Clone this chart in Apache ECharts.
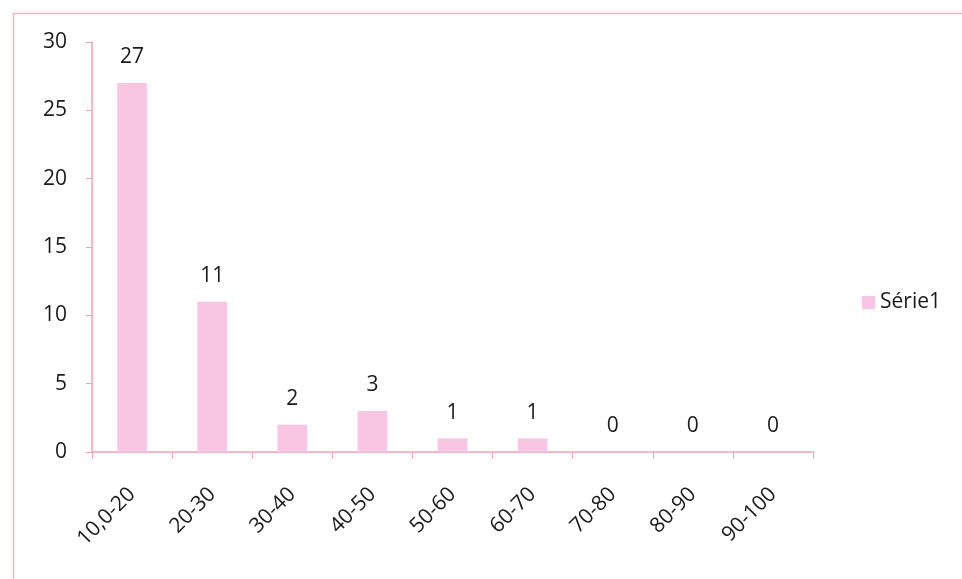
<!DOCTYPE html>
<html>
<head>
<meta charset="utf-8">
<script src="https://cdn.jsdelivr.net/npm/echarts@6/dist/echarts.min.js"></script>
<style>
  html, body { margin: 0; padding: 0; background: #fff; }
  #chart { width: 962px; height: 579px; }
</style>
</head>
<body>
<div id="chart"></div>
<script>
// Class intervals and their counts
const categories = ['10,0-20', '20-30', '30-40', '40-50', '50-60', '60-70', '70-80', '80-90', '90-100'];
const counts = [27, 11, 2, 3, 1, 1, 0, 0, 0];
const seriesName = 'Série1';

const FONT = '"Open Sans", Lato, sans-serif';
const FONT_SIZE = 21;
const TEXT_COLOR = '#1a1a1a';
const AXIS_COLOR = '#f0a3ad';
const BAR_COLOR = '#f8c6e2';

const chart = echarts.init(document.getElementById('chart'), null, { renderer: 'canvas' });

chart.setOption({
  backgroundColor: '#ffffff',
  animation: false,
  graphic: [{
    type: 'rect',
    left: 11, top: 11,
    shape: { width: 1000, height: 1000 },
    style: { fill: 'none', stroke: '#f2b6bf', lineWidth: 1.5 },
    silent: true
  }],
  legend: {
    orient: 'vertical',
    left: 857, top: 287,
    itemWidth: 13, itemHeight: 13,
    itemGap: 10,
    icon: 'rect',
    textStyle: { fontFamily: FONT, fontSize: FONT_SIZE, color: TEXT_COLOR },
    data: [seriesName]
  },
  grid: { left: 92, right: 149, top: 42, bottom: 127, containLabel: false },
  xAxis: {
    type: 'category',
    data: categories,
    axisLine: { lineStyle: { color: AXIS_COLOR, width: 1.5 } },
    axisTick: { show: true, length: 7, alignWithLabel: false, lineStyle: { color: AXIS_COLOR } },
    axisLabel: {
      rotate: 45, margin: 39, interval: 0,
      fontFamily: FONT, fontSize: FONT_SIZE, color: TEXT_COLOR
    }
  },
  yAxis: {
    type: 'value',
    min: 0, max: 30, interval: 5,
    axisLine: { show: true, lineStyle: { color: AXIS_COLOR, width: 1.5 } },
    axisTick: { show: true, length: 6, lineStyle: { color: AXIS_COLOR } },
    splitLine: { show: false },
    axisLabel: { margin: 25, fontFamily: FONT, fontSize: FONT_SIZE, color: TEXT_COLOR }
  },
  series: [{
    name: seriesName,
    type: 'bar',
    data: counts,
    barWidth: '37%',
    itemStyle: { color: BAR_COLOR },
    label: {
      show: true, position: 'top', distance: 15,
      fontFamily: FONT, fontSize: FONT_SIZE, color: TEXT_COLOR
    }
  }]
});
</script>
</body>
</html>
